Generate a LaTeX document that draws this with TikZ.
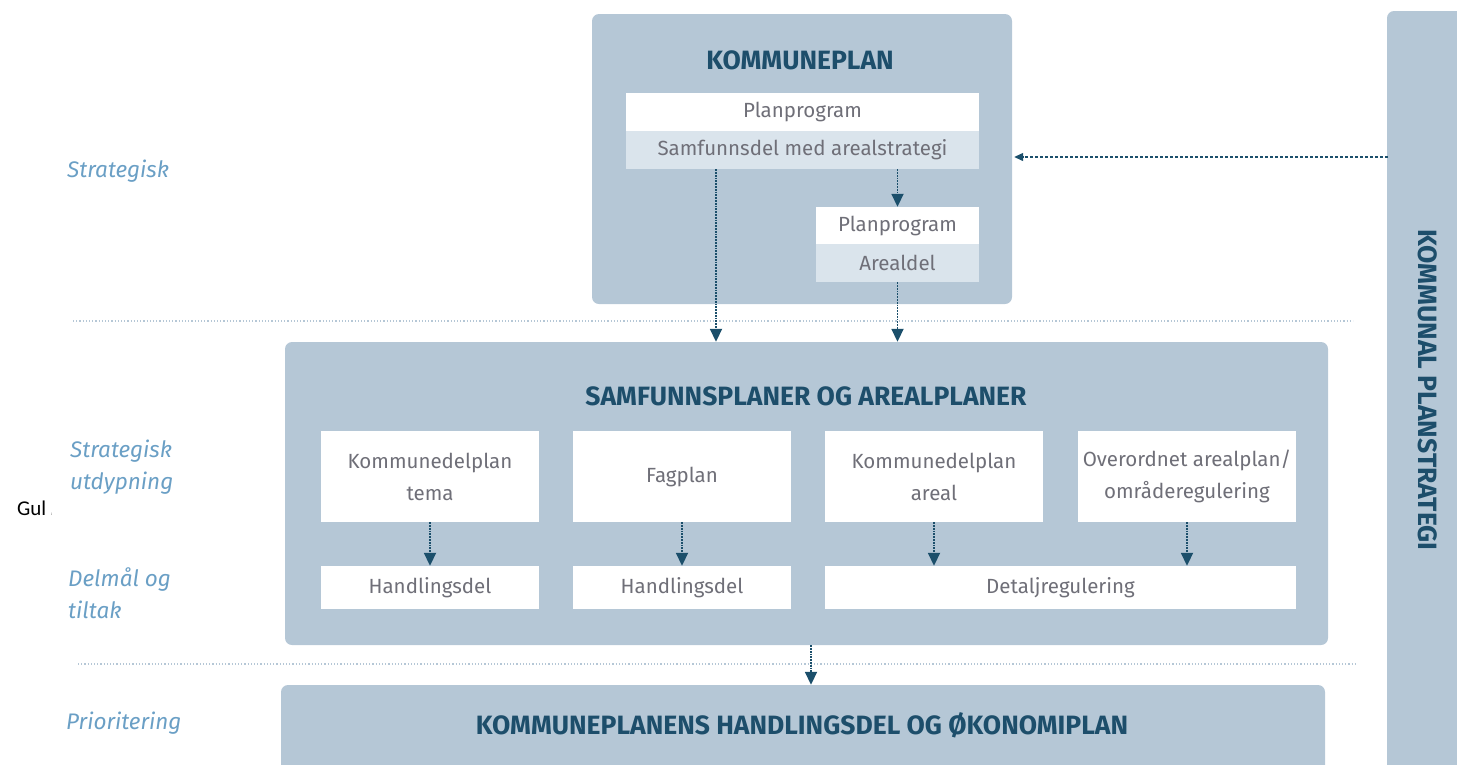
\documentclass[tikz,border=0pt]{standalone}
\usepackage{fontspec}
\setmainfont{Fira Sans}
\newfontfamily\carlito{Carlito}
\usetikzlibrary{arrows.meta}
\definecolor{boxblue}{HTML}{B5C7D6}
\definecolor{boxlight}{HTML}{DAE4EC}
\definecolor{titleblue}{HTML}{1D4E6B}
\definecolor{arrowblue}{HTML}{1B4F6B}
\definecolor{levelblue}{HTML}{6A9FC5}
\definecolor{greytext}{HTML}{6F6F78}
\begin{document}
\begin{tikzpicture}[x=1pt,y=-1pt,
    panel/.style={fill=boxblue, rounded corners=7pt, inner sep=0pt},
    whitebox/.style={fill=white, inner sep=0pt, text=greytext, align=center,
      font=\fontsize{20.5}{32}\selectfont},
    lightbox/.style={whitebox, fill=boxlight},
    paneltitle/.style={text=titleblue, font=\fontsize{26.5}{30}\selectfont\bfseries},
    level/.style={text=levelblue, anchor=west, align=left, inner sep=0pt,
      font=\fontsize{22.5}{32}\selectfont\itshape},
    flow/.style={draw=arrowblue, densely dotted, line width=1.8pt,
      -{Triangle[length=13pt,width=12pt]}},
    flowdash/.style={draw=arrowblue, dash pattern=on 3pt off 2pt, line width=1.3pt,
      -{Triangle[length=9pt,width=8pt]}, shorten >=2pt},
    divider/.style={draw=boxblue, dotted, line width=1.2pt}]
  \useasboundingbox (0,0) rectangle (1457,764);
  \clip (0,0) rectangle (1457,764);

  % panels
  \node[panel, minimum width=420pt, minimum height=290pt] (kplan) at (802,159) {};
  \node[panel, minimum width=1043pt, minimum height=303pt] (mid) at (806.5,493.5) {};
  \node[panel, minimum width=1044pt, minimum height=160pt] (hkp) at (803,765) {};
  \node[panel, minimum width=83pt, minimum height=789pt] (kps) at (1428.5,405.5) {};

  % titles
  \node[paneltitle] (kplantitle) at (800,60) {KOMMUNEPLAN};
  \node[paneltitle] (midtitle) at (806,396) {SAMFUNNSPLANER OG AREALPLANER};
  \node[paneltitle] (hkptitle) at (802,725) {KOMMUNEPLANENS HANDLINGSDEL OG ØKONOMIPLAN};
  \node[paneltitle, rotate=-90] (kpstitle) at (1428,390) {KOMMUNAL PLANSTRATEGI};

  % kommuneplan
  \node[whitebox, minimum width=353pt, minimum height=38pt] (pp1) at (802.5,112) {Planprogram};
  \node[lightbox, minimum width=353pt, minimum height=38pt] (sd) at (802.5,150) {Samfunnsdel med arealstrategi};
  \node[whitebox, minimum width=163pt, minimum height=37pt] (pp2) at (897.5,225.5) {Planprogram};
  \node[lightbox, minimum width=163pt, minimum height=38pt] (ad) at (897.5,263) {Arealdel};

  % samfunnsplaner og arealplaner
  \node[whitebox, minimum width=218pt, minimum height=91pt] (tema) at (430,476.5) {Kommunedelplan\\tema};
  \node[whitebox, minimum width=218pt, minimum height=91pt] (fag) at (682,476.5) {Fagplan};
  \node[whitebox, minimum width=218pt, minimum height=91pt] (areal) at (934,476.5) {Kommunedelplan\\areal};
  \node[whitebox, minimum width=218pt, minimum height=91pt] (omr) at (1187,476.5) {Overordnet arealplan/\\områderegulering};
  \node[whitebox, minimum width=218pt, minimum height=43pt] (hand1) at (430,587.5) {Handlingsdel};
  \node[whitebox, minimum width=218pt, minimum height=43pt] (hand2) at (682,587.5) {Handlingsdel};
  \node[whitebox, minimum width=471pt, minimum height=43pt] (detalj) at (1060.5,587.5) {Detaljregulering};

  % levels
  \node[level] (lstrat) at (67,171) {Strategisk};
  \node[level] (lutd) at (70,467) {Strategisk\\utdypning};
  \node[level] (ldel) at (68,593) {Delmål og\\tiltak};
  \node[level] (lprio) at (66,723) {Prioritering};
  \node[anchor=west, inner sep=0pt, font=\carlito\fontsize{21}{24}\selectfont] (gul) at (17,508) {Gul \tiny:};

  % dividers
  \draw[divider] (73,321) -- (1353,321);
  \draw[divider] (78,664) -- (1355,664);

  % arrows
  \coordinate (sdout) at ([xshift=-86.5pt]sd.south);
  \coordinate (kpsin) at (1388,157);
  \begin{scope}
    \draw[flow] (sd.south -| pp2) -- (pp2.north);
    \draw[flow] (sdout) -- (sdout |- mid.north);
    \draw[flow] (ad.south) -- (ad.south |- mid.north);
    \draw[flow] (tema) -- (hand1);
    \draw[flow] (fag) -- (hand2);
    \draw[flow] (areal.south) -- (areal.south |- detalj.north);
    \draw[flow] (omr.south) -- (omr.south |- detalj.north);
    \draw[flow] ([xshift=4.5pt]mid.south) -- ([xshift=4.5pt]mid.south |- hkp.north);
    \draw[flowdash] (kpsin) -- (kpsin -| kplan.east);
  \end{scope}
\end{tikzpicture}
\end{document}
